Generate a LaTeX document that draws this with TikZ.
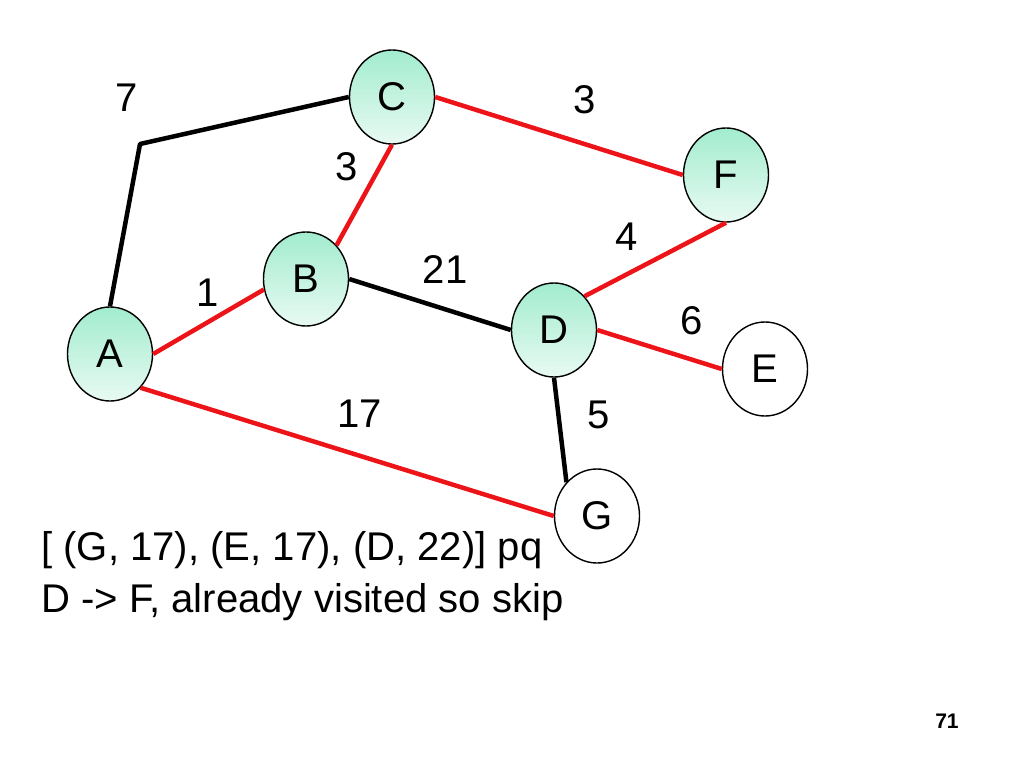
\documentclass[tikz,border=0pt]{standalone}
\usepackage{fontspec}
\setmainfont{Liberation Sans}
\usepackage{xcolor}
\usepackage{tikz}
\usetikzlibrary{calc, shapes.geometric, positioning}

\definecolor{mintTop}{RGB}{162,236,207}
\definecolor{mintBot}{RGB}{232,250,242}
\definecolor{edgeRed}{RGB}{236,20,24}

\begin{document}
\begin{tikzpicture}[>=latex, x=0.025cm, y=-0.025cm,
    vertex/.style={ellipse, draw, line width=1pt, inner sep=0pt,
        minimum width=2.125cm, minimum height=2.35cm,
        font=\fontsize{28.5}{34}\selectfont},
    seen/.style={vertex, top color=mintTop, bottom color=mintBot},
    fresh/.style={vertex, fill=white},
    tree/.style={edgeRed, line width=3.2pt},
    plain/.style={black, line width=3.2pt, line join=round},
    weight/.style={inner sep=0pt, font=\fontsize{28.5}{34}\selectfont}]
    \useasboundingbox (0,0) rectangle (1024,768);

    % Các đỉnh
    \node[seen]  (C) at (392,97)  {C};
    \node[seen]  (F) at (726,175) {F};
    \node[seen]  (B) at (306,279) {B};
    \node[seen]  (D) at (554,330) {D};
    \node[seen]  (A) at (110,354) {A};
    \node[fresh] (E) at (765,369) {E};
    \node[fresh] (G) at (597,516) {G};
    \coordinate (bend) at (140,144);

    % Các cạnh
    \draw[plain] (A.north) -- (bend) -- (C.west);
    \draw[tree]  (C.east) -- (F.west);
    \draw[tree]  (C.south) -- (B.north east);
    \draw[tree]  (A.east) -- (B.194);
    \draw[plain] (B.east) -- (D.west);
    \draw[tree]  (D.north east) -- (F.south);
    \draw[tree]  (D.east) -- (E.west);
    \draw[plain] (D.south) -- (G.north west);
    \draw[tree]  (A.south east) -- (G.west);

    % Trọng số
    \node[weight] (wAC) at (127,98)  {7};
    \node[weight] (wCF) at (585,100) {3};
    \node[weight] (wCB) at (347,167) {3};
    \node[weight] (wAB) at (208,293) {1};
    \node[weight] (wBD) at (445,270) {21};
    \node[weight] (wDF) at (627,237) {4};
    \node[weight] (wDE) at (692,321) {6};
    \node[weight] (wDG) at (599,415) {5};
    \node[weight] (wAG) at (360,414) {17};

    % Ghi chú
    \node[weight, anchor=base west] (pq) at (41,560) {[ (G, 17), (E, 17), (D, 22)] pq};
    \node[weight, anchor=base west] (note) at (41,612) {D -> F, already visited so skip};
    \node[inner sep=0pt, anchor=base east, font=\fontsize{15}{18}\selectfont\bfseries]
        (page) at (959,728) {71};
\end{tikzpicture}
\end{document}
